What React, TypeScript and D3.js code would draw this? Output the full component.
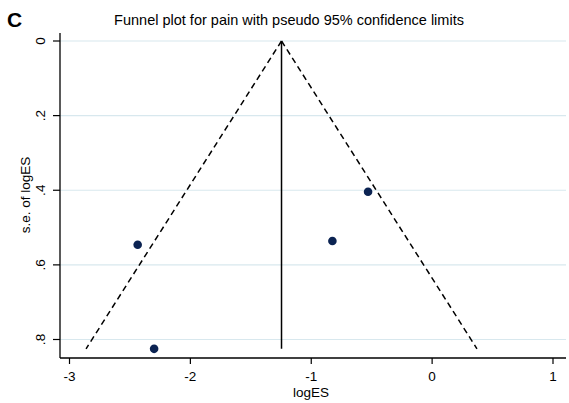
import React from "react";
import * as d3 from "d3";

// Study effect sizes (log scale) and their standard errors
const studyLogES = [-2.436, -2.3, -0.53, -0.825];
const studySE = [0.546, 0.825, 0.404, 0.536];
// Pooled (fixed-effect) estimate drawn as the funnel centre
const pooledLogES = -1.246;
const xTicks = [-3, -2, -1, 0, 1];
const yTicks = [0, 0.2, 0.4, 0.6, 0.8];
const yTickLabels = ["0", ".2", ".4", ".6", ".8"];

const W = 569;
const H = 403;
const FONT = "'Liberation Sans', Arial, sans-serif";

export default function App() {
  const x = d3.scaleLinear().domain([-3, 1]).range([69.5, 553]);
  const y = d3.scaleLinear().domain([0, 0.8]).range([41, 339.5]);
  const axisLeft = 60;
  const axisBottom = 358;
  const plotRight = 566;
  const plotTop = 33;

  const seMax = d3.max(studySE) as number;
  const z = 1.96;
  const limitLine = d3.line<[number, number]>().x((d) => x(d[0])).y((d) => y(d[1]));
  const leftPts: [number, number][] = [
    [pooledLogES, 0],
    [pooledLogES - z * seMax, seMax],
  ];
  const rightPts: [number, number][] = [
    [pooledLogES, 0],
    [pooledLogES + z * seMax, seMax],
  ];

  return (
    <svg width={W} height={H} style={{ position: "absolute", left: 0, top: 0, background: "#fff" }}>
      <rect x={0} y={0} width={W} height={H} fill="#fff" />
      {/* panel letter and title */}
      <text x={7} y={27} fontFamily={FONT} fontWeight="bold" fontSize={21} fill="#000">
        C
      </text>
      <text x={289} y={25} textAnchor="middle" fontFamily={FONT} fontSize={14.5} fill="#000">
        Funnel plot for pain with pseudo 95% confidence limits
      </text>

      {/* horizontal grid */}
      {yTicks.map((t) => (
        <line key={"g" + t} x1={axisLeft} x2={plotRight} y1={y(t)} y2={y(t)} stroke="#d8e8ee" strokeWidth={1.2} />
      ))}

      {/* funnel limits */}
      <path d={limitLine(leftPts) as string} fill="none" stroke="#000" strokeWidth={1.5} strokeDasharray="6,4" />
      <path d={limitLine(rightPts) as string} fill="none" stroke="#000" strokeWidth={1.5} strokeDasharray="6,4" />
      {/* pooled estimate */}
      <line x1={x(pooledLogES)} x2={x(pooledLogES)} y1={y(0)} y2={y(seMax)} stroke="#000" strokeWidth={1.5} />

      {/* studies */}
      {studyLogES.map((v, i) => (
        <circle key={"p" + i} cx={x(v)} cy={y(studySE[i])} r={4.3} fill="#0b2352" />
      ))}

      {/* axes */}
      <line x1={axisLeft} x2={axisLeft} y1={plotTop} y2={axisBottom} stroke="#000" strokeWidth={1.3} />
      <line x1={axisLeft} x2={plotRight} y1={axisBottom} y2={axisBottom} stroke="#000" strokeWidth={1.3} />
      {yTicks.map((t, i) => (
        <g key={"yt" + t}>
          <line x1={axisLeft - 7} x2={axisLeft} y1={y(t)} y2={y(t)} stroke="#000" strokeWidth={1.2} />
          <text
            transform={`translate(${45},${y(t)}) rotate(-90)`}
            textAnchor="middle"
            fontFamily={FONT}
            fontSize={13.5}
            fill="#000"
          >
            {yTickLabels[i]}
          </text>
        </g>
      ))}
      {xTicks.map((t) => (
        <g key={"xt" + t}>
          <line x1={x(t)} x2={x(t)} y1={axisBottom} y2={axisBottom + 6} stroke="#000" strokeWidth={1.2} />
          <text x={x(t)} y={380.5} textAnchor="middle" fontFamily={FONT} fontSize={13.5} fill="#000">
            {String(t)}
          </text>
        </g>
      ))}
      <text x={311} y={397} textAnchor="middle" fontFamily={FONT} fontSize={13.5} fill="#000">
        logES
      </text>
      <text
        transform={`translate(${30},${195}) rotate(-90)`}
        textAnchor="middle"
        fontFamily={FONT}
        fontSize={13.5}
        fill="#000"
      >
        s.e. of logES
      </text>
    </svg>
  );
}
